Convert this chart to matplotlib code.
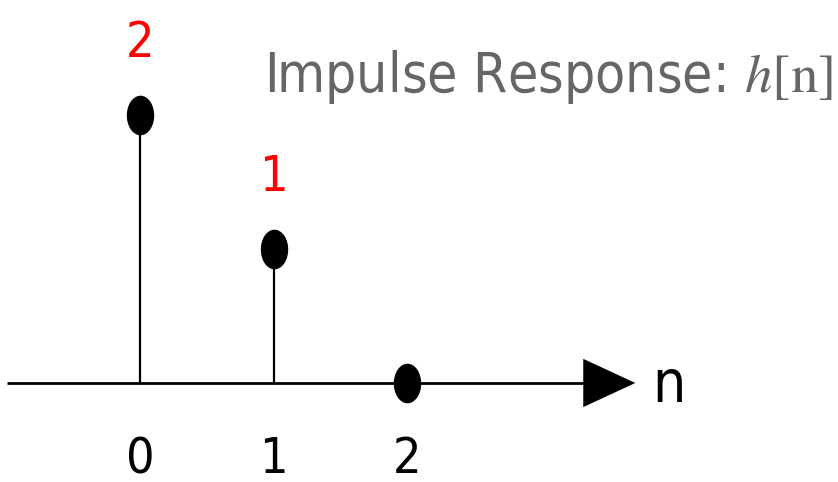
import matplotlib
matplotlib.use("Agg")
import matplotlib.pyplot as plt
from matplotlib.path import Path
from matplotlib.transforms import Affine2D

# impulse response samples
n = [0, 1, 2]
h = [2, 1, 0]
value_labels = ["2", "1", ""]
tick_labels = ["0", "1", "2"]
title = "Impulse Response: "

plt.rcParams["mathtext.fontset"] = "stix"

fig = plt.figure(figsize=(8.38, 4.82), dpi=100)
ax = fig.add_axes([0, 0, 1, 1])
ax.set_xlim(-1.0487, 5.228)
ax.set_ylim(-0.739, 2.858)
ax.axis("off")

# horizontal axis with arrow head
ax.plot([-1.0, 3.35], [0, 0], color="black", lw=2, solid_capstyle="butt")
ax.fill([3.32, 3.71, 3.32], [0.18, 0, -0.18], color="black", lw=0)

# stems and elliptical markers
ax.vlines(n, 0, h, color="black", lw=1.6)
ell = Path.unit_circle().transformed(Affine2D().scale(0.68, 1.0))
ax.plot(n, h, linestyle="none", marker=ell, markersize=27.5, color="black")

for xi, yi, lab in zip(n, h, value_labels):
    ax.annotate(lab, (xi, yi), xytext=(0, 52), textcoords="offset points",
                ha="center", va="center", color="red", fontsize=36,
                family="DejaVu Sans", fontstretch="condensed")

for xi, lab in zip(n, tick_labels):
    ax.annotate(lab, (xi, 0), xytext=(0, -55), textcoords="offset points",
                ha="center", va="center", color="black", fontsize=36,
                family="DejaVu Sans", fontstretch="condensed")

ax.text(3.96, -0.02, "n", ha="center", va="center", fontsize=42,
        family="DejaVu Sans", fontstretch="condensed")

ax.text(0.93, 2.17, title + r"$h[\mathrm{n}]$", ha="left", va="baseline",
        color="#666666", fontsize=39.5, family="DejaVu Sans", fontstretch="condensed")

fig.savefig("out.png", dpi=100)
